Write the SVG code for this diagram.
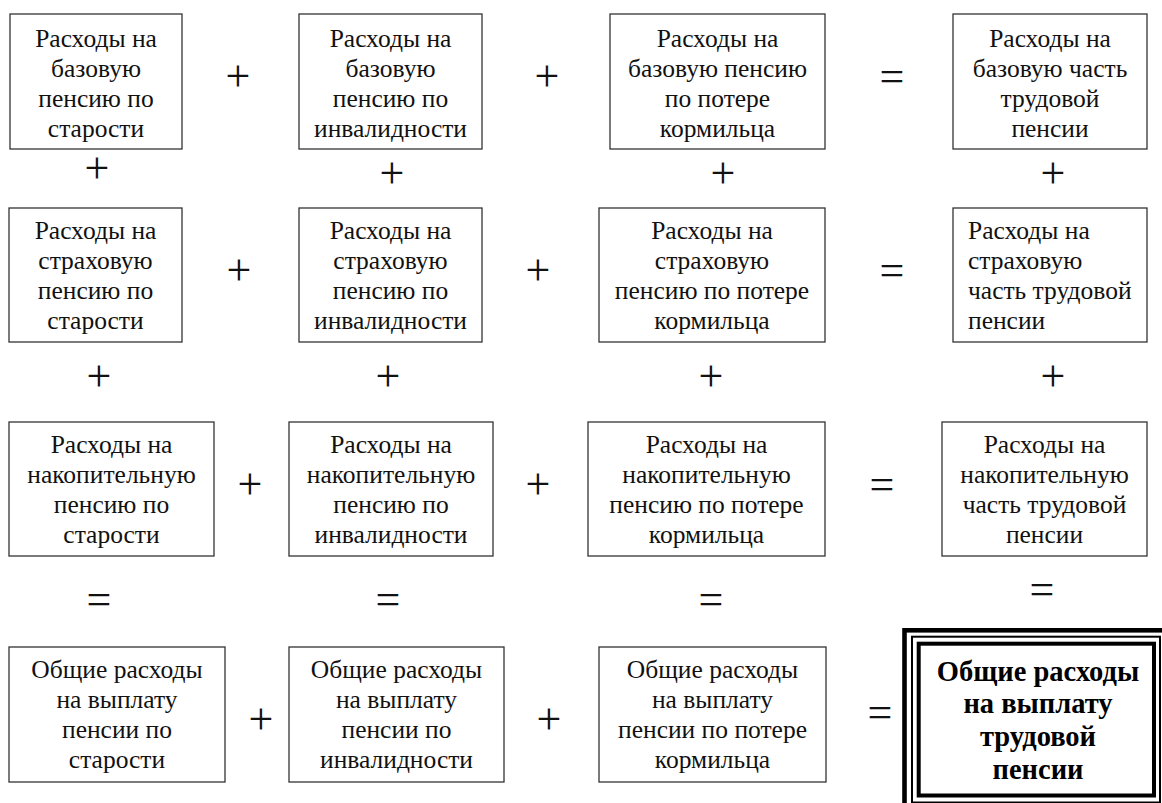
<svg xmlns="http://www.w3.org/2000/svg" width="1162" height="803" viewBox="0 0 1162 803">
<style>
.box{fill:#fff;stroke:#333;stroke-width:1.3}
.t{font-family:"Liberation Serif","Times New Roman",serif;font-size:25.5px;fill:#111;text-anchor:middle}
.tl{text-anchor:start}
.tb{font-family:"Liberation Serif","Times New Roman",serif;font-size:28.5px;font-weight:bold;fill:#000;text-anchor:middle}
.op{font-family:"Liberation Serif","Times New Roman",serif;font-size:44px;fill:#111;text-anchor:middle}
.fr{fill:none;stroke:#000}
</style>
<rect width="1162" height="803" fill="#fff"/>
<g id="n11"><rect class="box" x="10" y="14" width="172" height="135"/>
<text class="t"><tspan x="96" y="47">Расходы на</tspan><tspan x="96" y="77">базовую</tspan><tspan x="96" y="107">пенсию по</tspan><tspan x="96" y="137">старости</tspan></text></g>
<g id="n12"><rect class="box" x="299" y="14" width="183" height="135"/>
<text class="t"><tspan x="390.5" y="47">Расходы на</tspan><tspan x="390.5" y="77">базовую</tspan><tspan x="390.5" y="107">пенсию по</tspan><tspan x="390.5" y="137">инвалидности</tspan></text></g>
<g id="n13"><rect class="box" x="610" y="14" width="215" height="135"/>
<text class="t"><tspan x="717.5" y="47">Расходы на</tspan><tspan x="717.5" y="77">базовую пенсию</tspan><tspan x="717.5" y="107">по потере</tspan><tspan x="717.5" y="137">кормильца</tspan></text></g>
<g id="n14"><rect class="box" x="953" y="14" width="194" height="135"/>
<text class="t"><tspan x="1050" y="47">Расходы на</tspan><tspan x="1050" y="77">базовую часть</tspan><tspan x="1050" y="107">трудовой</tspan><tspan x="1050" y="137">пенсии</tspan></text></g>

<g id="n21"><rect class="box" x="9" y="208" width="173" height="134"/>
<text class="t"><tspan x="95.5" y="239">Расходы на</tspan><tspan x="95.5" y="269">страховую</tspan><tspan x="95.5" y="299">пенсию по</tspan><tspan x="95.5" y="329">старости</tspan></text></g>
<g id="n22"><rect class="box" x="299" y="208" width="183" height="134"/>
<text class="t"><tspan x="390.5" y="239">Расходы на</tspan><tspan x="390.5" y="269">страховую</tspan><tspan x="390.5" y="299">пенсию по</tspan><tspan x="390.5" y="329">инвалидности</tspan></text></g>
<g id="n23"><rect class="box" x="599" y="208" width="226" height="134"/>
<text class="t"><tspan x="712" y="239">Расходы на</tspan><tspan x="712" y="269">страховую</tspan><tspan x="712" y="299">пенсию по потере</tspan><tspan x="712" y="329">кормильца</tspan></text></g>
<g id="n24"><rect class="box" x="953" y="208" width="194" height="134"/>
<text class="t tl"><tspan x="968" y="239">Расходы на</tspan><tspan x="968" y="269">страховую</tspan><tspan x="968" y="299">часть трудовой</tspan><tspan x="968" y="329">пенсии</tspan></text></g>

<g id="n31"><rect class="box" x="9" y="422" width="205" height="134"/>
<text class="t"><tspan x="111.5" y="453">Расходы на</tspan><tspan x="111.5" y="483">накопительную</tspan><tspan x="111.5" y="513">пенсию по</tspan><tspan x="111.5" y="543">старости</tspan></text></g>
<g id="n32"><rect class="box" x="289" y="422" width="204" height="134"/>
<text class="t"><tspan x="391" y="453">Расходы на</tspan><tspan x="391" y="483">накопительную</tspan><tspan x="391" y="513">пенсию по</tspan><tspan x="391" y="543">инвалидности</tspan></text></g>
<g id="n33"><rect class="box" x="588" y="422" width="237" height="134"/>
<text class="t"><tspan x="706.5" y="453">Расходы на</tspan><tspan x="706.5" y="483">накопительную</tspan><tspan x="706.5" y="513">пенсию по потере</tspan><tspan x="706.5" y="543">кормильца</tspan></text></g>
<g id="n34"><rect class="box" x="942" y="422" width="205" height="134"/>
<text class="t"><tspan x="1044.5" y="453">Расходы на</tspan><tspan x="1044.5" y="483">накопительную</tspan><tspan x="1044.5" y="513">часть трудовой</tspan><tspan x="1044.5" y="543">пенсии</tspan></text></g>

<g id="n41"><rect class="box" x="9" y="647" width="216" height="135"/>
<text class="t"><tspan x="117" y="678">Общие расходы</tspan><tspan x="117" y="708">на выплату</tspan><tspan x="117" y="738">пенсии по</tspan><tspan x="117" y="768">старости</tspan></text></g>
<g id="n42"><rect class="box" x="289" y="647" width="215" height="135"/>
<text class="t"><tspan x="396.5" y="678">Общие расходы</tspan><tspan x="396.5" y="708">на выплату</tspan><tspan x="396.5" y="738">пенсии по</tspan><tspan x="396.5" y="768">инвалидности</tspan></text></g>
<g id="n43"><rect class="box" x="599" y="647" width="227" height="135"/>
<text class="t"><tspan x="712.5" y="678">Общие расходы</tspan><tspan x="712.5" y="708">на выплату</tspan><tspan x="712.5" y="738">пенсии по потере</tspan><tspan x="712.5" y="768">кормильца</tspan></text></g>
<g id="total">
<rect class="fr" x="904.5" y="630.3" width="270" height="190" stroke-width="4.6"/>
<rect class="fr" x="912" y="636.7" width="248" height="165.8" stroke-width="2"/>
<rect class="fr" x="918.7" y="643.7" width="235.3" height="151.8" stroke-width="4"/>
<text class="tb"><tspan x="1038" y="681">Общие расходы</tspan><tspan x="1038" y="713">на выплату</tspan><tspan x="1038" y="746">трудовой</tspan><tspan x="1038" y="779">пенсии</tspan></text></g>

<g id="operators" class="op">
<text x="238" y="91">+</text><text x="547" y="91">+</text><text x="892" y="91">=</text>
<text x="97" y="183">+</text><text x="392" y="188">+</text><text x="723" y="188">+</text><text x="1053" y="188">+</text>
<text x="239" y="285">+</text><text x="538" y="285">+</text><text x="892" y="285">=</text>
<text x="99" y="391">+</text><text x="388" y="391">+</text><text x="711" y="391">+</text><text x="1053" y="391">+</text>
<text x="250" y="499">+</text><text x="538" y="499">+</text><text x="882" y="499">=</text>
<text x="99" y="614">=</text><text x="388" y="614">=</text><text x="711" y="614">=</text><text x="1042" y="604">=</text>
<text x="261" y="734">+</text><text x="549" y="734">+</text><text x="880" y="727">=</text>
</g>
</svg>
